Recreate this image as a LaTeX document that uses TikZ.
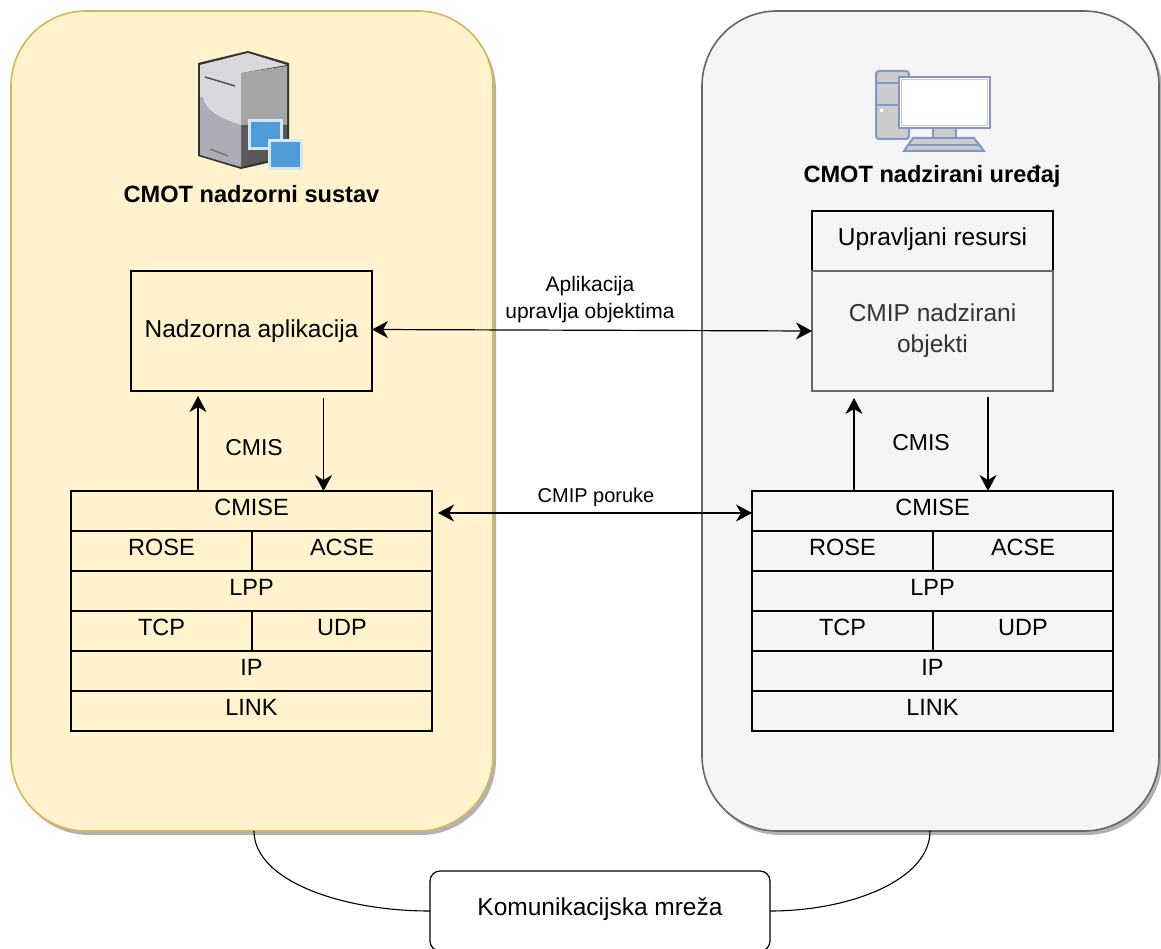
\documentclass[tikz,border=0pt]{standalone}
\usepackage{fontspec}
\setmainfont{Liberation Sans}
\usetikzlibrary{calc,positioning,shadows,arrows.meta}

\definecolor{panelyellow}{HTML}{FFF2CC}
\definecolor{edgeyellow}{HTML}{D6B656}
\definecolor{panelgrey}{HTML}{F5F5F5}
\definecolor{edgegrey}{HTML}{666666}
\definecolor{textgrey}{HTML}{333333}
\definecolor{iconblue}{HTML}{7F98C8}
\definecolor{iconfill}{HTML}{4F9BD6}
\definecolor{iconrim}{HTML}{D5E6F3}

\tikzset{
	panel/.style={rounded corners=75pt,line width=1.6pt,drop shadow={shadow xshift=3pt,shadow yshift=-4pt,fill=black!55,opacity=0.55}},
	layer/.style={draw,line width=1.2pt,anchor=north west,align=center,font=\fontsize{23.5}{30}\selectfont,inner sep=0pt,outer sep=0pt},
	raised/.style={text height=17pt,text depth=8pt},
	appbox/.style={layer,font=\fontsize{24.5}{31}\selectfont,minimum width=241pt},
	link/.style={line width=1.2pt,{Stealth[length=16pt,width=17pt,inset=5pt]}-{Stealth[length=16pt,width=17pt,inset=5pt]}},
	uplink/.style={line width=1.2pt,-{Stealth[length=16pt,width=17pt,inset=5pt]}},
	caption/.style={font=\fontsize{21}{27}\selectfont,align=center,inner sep=0pt},
	title/.style={font=\bfseries\fontsize{23.6}{28}\selectfont,inner sep=0pt},
	iconline/.style={iconblue,line width=2pt}
}

\begin{document}
\begin{tikzpicture}[x=1pt,y=-1pt]
	\useasboundingbox (0,0) rectangle (1161,949);

	% panels
	\draw [panel,draw=edgeyellow,fill=panelyellow] (11,11) rectangle (493,831);
	\draw [panel,draw=edgegrey,fill=panelgrey] (702,11) rectangle (1159,831);
	\coordinate (leftfoot) at (254,831);
	\coordinate (rightfoot) at (930,831);

	% server icon
	\fill [black!80!white] (198,63) -- (248,51) -- (289,63) -- (289,158) -- (241,169) -- (198,156) -- cycle;
	\fill [black!35!white] (241,73) -- (287,66) -- (287,125) -- (241,125) -- cycle;
	\fill [black!65!white] (241,125) -- (287,125) -- (287,156) -- (241,167) -- cycle;
	\fill [blue!10!black!32!white] (200,65) -- (241,73) -- (241,167) -- (200,155) -- cycle;
	\fill [blue!10!black!15!white] (200,65) -- (248,53) -- (287,65) -- (241,73) -- (241,125) .. controls (220,118) and (205,110) .. (203,97) -- (200,97) -- cycle;
	\draw [black!70!white,line width=1.4pt] (205,77) -- (235,86);
	\draw [black!55!white,line width=1.4pt] (210,149) -- (228,156);
	\draw [fill=iconfill,draw=iconrim,line width=3pt] (249,121) rectangle (281,148.5);
	\draw [fill=iconfill,draw=iconrim,line width=3pt] (269,140.5) rectangle (301.5,168.5);

	% computer icon
	\draw [iconline,fill=black!20!white,rounded corners=3pt] (876,71) rectangle (909,139);
	\draw [iconline] (876,83) -- (909,83);
	\draw [iconline] (876,105) -- (909,105);
	\fill [white] (879.5,109.5) rectangle (882.5,112.5);
	\draw [iconline,fill=black!20!white] (933,128) rectangle (956,138);
	\draw [iconline,fill=white] (899,77) rectangle (990,128);
	\draw [black!20!white,line width=1pt] (901.5,79.5) rectangle (987.5,125.5);
	\draw [iconline,fill=black!20!white] (913,138) -- (974,138) -- (984,151) -- (904,151) -- cycle;
	\draw [iconline,line width=1.2pt] (909,145) -- (979,145);

	\node [title] (tleft) at (251.5,194) {CMOT nadzorni sustav};
	\node [title] (tright) at (932,176) {CMOT nadzirani uređaj};

	% application boxes
	\node [appbox,minimum height=120pt] (app) at (131,271) {Nadzorna aplikacija};
	\node [appbox,raised,minimum height=60pt] (res) at (812,211) {Upravljani resursi};
	\node [appbox,draw=edgegrey,text=textgrey,minimum height=120pt] (obj) at (812,271) {\raisebox{3pt}{CMIP nadzirani}\\\raisebox{3pt}{objekti}};

	% left stack
	\node [layer,raised,minimum width=361pt,minimum height=40pt] (lcmise) at (71,491) {CMISE};
	\node [layer,raised,minimum width=181pt,minimum height=40pt] (lrose) at (71,531) {ROSE};
	\node [layer,raised,minimum width=180pt,minimum height=40pt] (lacse) at (252,531) {ACSE};
	\node [layer,raised,minimum width=361pt,minimum height=40pt] (llpp) at (71,571) {LPP};
	\node [layer,raised,minimum width=181pt,minimum height=40pt] (ltcp) at (71,611) {TCP};
	\node [layer,raised,minimum width=180pt,minimum height=40pt] (ludp) at (252,611) {UDP};
	\node [layer,raised,minimum width=361pt,minimum height=40pt] (lip) at (71,651) {IP};
	\node [layer,raised,minimum width=361pt,minimum height=40pt] (llink) at (71,691) {LINK};

	% right stack
	\node [layer,raised,minimum width=361pt,minimum height=40pt] (rcmise) at (752,491) {CMISE};
	\node [layer,raised,minimum width=181pt,minimum height=40pt] (rrose) at (752,531) {ROSE};
	\node [layer,raised,minimum width=180pt,minimum height=40pt] (racse) at (933,531) {ACSE};
	\node [layer,raised,minimum width=361pt,minimum height=40pt] (rlpp) at (752,571) {LPP};
	\node [layer,raised,minimum width=181pt,minimum height=40pt] (rtcp) at (752,611) {TCP};
	\node [layer,raised,minimum width=180pt,minimum height=40pt] (rudp) at (933,611) {UDP};
	\node [layer,raised,minimum width=361pt,minimum height=40pt] (rip) at (752,651) {IP};
	\node [layer,raised,minimum width=361pt,minimum height=40pt] (rlink) at (752,691) {LINK};

	\node [layer,raised,font=\fontsize{24.5}{31}\selectfont,rounded corners=10pt,minimum width=340pt,minimum height=80pt] (net) at (430,871) {Komunikacijska mreža};

	% connectors
	\coordinate (msgend) at (438,513);
	\draw [link] ($(app.east)+(0,-1.5)$) -- (obj.west);
	\draw [link] (msgend) -- ($(rcmise.west)+(0,2)$);
	\draw [uplink] ($(lcmise.north west)+(127,0)$) -- ($(app.south west)+(67,5)$);
	\draw [uplink] ($(app.south west)+(192.5,7)$) -- ($(lcmise.north west)+(252.5,0)$);
	\draw [uplink] ($(rcmise.north west)+(102,0)$) -- ($(obj.south west)+(42,7)$);
	\draw [uplink] ($(obj.south west)+(176,6)$) -- ($(rcmise.north west)+(236,0)$);

	\draw [line width=1.1pt] (leftfoot) .. controls (254,880) and (340,911) .. (net.west);
	\draw [line width=1.1pt] (rightfoot) .. controls (930,880) and (850,911) .. (net.east);

	% labels
	\node [caption] (capp) at (590,300) {Aplikacija\\upravlja objektima};
	\node [caption,font=\fontsize{20}{24}\selectfont] (cmsg) at (596,497) {CMIP poruke};
	\node [caption,font=\fontsize{23}{28}\selectfont] (clcmis) at (254,448) {CMIS};
	\node [caption,font=\fontsize{23}{28}\selectfont] (crcmis) at (921,443) {CMIS};
\end{tikzpicture}
\end{document}
